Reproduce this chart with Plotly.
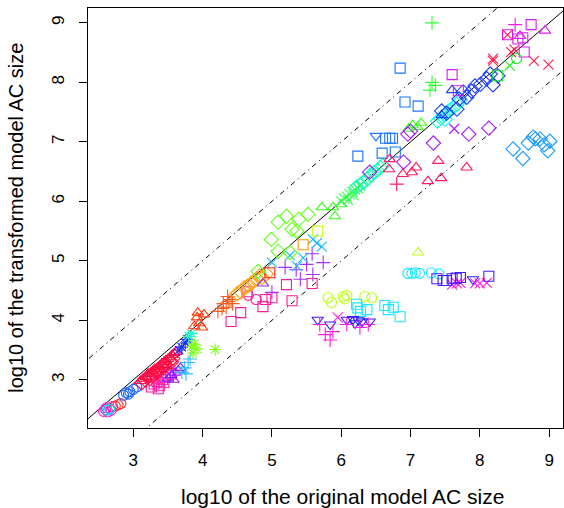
import plotly.graph_objects as go

# --- data (log10 sizes: original vs transformed) ---
magenta_circ_x = [2.57, 2.60, 2.63, 2.66, 2.70, 2.61, 2.68]
magenta_circ_y = [2.47, 2.50, 2.46, 2.52, 2.55, 2.53, 2.49]
red_circ_x = [2.74, 2.78, 2.82]
red_circ_y = [2.56, 2.58, 2.60]
cyan_circ_lo_x = [2.62, 2.66]
cyan_circ_lo_y = [2.49, 2.51]
blue_circ_x = [2.86, 2.90, 2.95, 3.00, 3.05, 2.93]
blue_circ_y = [2.74, 2.78, 2.80, 2.84, 2.88, 2.76]
red_tri_lo_x = [3.10, 3.14, 3.18, 3.21, 3.25, 3.28, 3.31, 3.35, 3.38, 3.41,
                3.44, 3.47, 3.50, 3.53, 3.56, 3.59, 3.62, 3.30, 3.40, 3.48]
red_tri_lo_y = [2.98, 3.02, 3.05, 3.10, 3.12, 3.15, 3.18, 3.21, 3.24, 3.27,
                3.30, 3.33, 3.35, 3.38, 3.42, 3.45, 3.47, 3.10, 3.18, 3.25]
red_dia_lo_x = [3.12, 3.17, 3.22, 3.27, 3.32, 3.36, 3.42, 3.46, 3.52, 3.57,
                3.24, 3.34, 3.44, 3.55]
red_dia_lo_y = [2.95, 3.00, 3.06, 3.08, 3.14, 3.16, 3.22, 3.26, 3.31, 3.36,
                3.02, 3.12, 3.20, 3.30]
pink_sq_lo_x = [3.26, 3.30, 3.34, 3.38, 3.42, 3.46, 3.50, 3.54, 3.36, 3.44]
pink_sq_lo_y = [2.88, 2.93, 2.97, 2.90, 3.00, 3.04, 3.08, 3.10, 2.85, 2.95]
purple_tri_lo_x = [3.50, 3.55, 3.60, 3.65, 3.68, 3.58]
purple_tri_lo_y = [3.02, 3.08, 3.12, 3.16, 3.20, 3.00]
lblue_cross_lo_x = [3.70, 3.74, 3.79, 3.82, 3.76]
lblue_cross_lo_y = [3.13, 3.20, 3.29, 3.35, 3.10]
blue_ast_x = [3.70, 3.75, 3.78, 3.66]
blue_ast_y = [3.55, 3.62, 3.68, 3.50]
teal_ast_x = [3.80, 3.84]
teal_ast_y = [3.73, 3.78]
green_ast_x = [3.84, 3.88, 3.92, 4.18, 3.86]
green_ast_y = [3.56, 3.60, 3.52, 3.51, 3.45]
orange_tri_x = [3.88, 3.92, 3.95, 3.99, 4.02, 3.93]
orange_tri_y = [3.90, 4.05, 3.95, 3.88, 4.10, 4.13]
orange_plus_x = [4.22, 4.28, 4.30, 4.34, 4.38, 4.41, 4.43, 4.36]
orange_plus_y = [4.15, 4.20, 4.28, 4.22, 4.32, 4.35, 4.28, 4.40]
pink_sq_x = [4.41, 4.55, 4.64, 4.87, 4.91, 5.00, 5.21, 5.29, 5.58]
pink_sq_y = [3.98, 4.13, 4.48, 4.23, 4.35, 4.38, 4.60, 4.33, 4.62]
pink_circ_x = [4.77, 4.66]
pink_circ_y = [4.35, 4.42]
amber_x = [4.50, 4.55, 4.60, 4.65, 4.70, 4.74, 4.78, 4.82, 4.86, 4.92]
amber_y = [4.45, 4.48, 4.55, 4.58, 4.62, 4.66, 4.70, 4.74, 4.72, 4.78]
red_sq_x = [4.97]
red_sq_y = [4.80]
purple_tri_x = [4.87]
purple_tri_y = [4.62]
purple_plus_x = [5.00, 5.19, 5.41, 5.50, 5.58, 5.59, 5.74, 5.35]
purple_plus_y = [4.47, 4.89, 4.69, 4.94, 5.12, 4.77, 4.97, 4.85]
lblue_x_x = [5.00, 5.26, 5.36, 5.45, 5.59, 5.65, 5.72]
lblue_x_y = [4.97, 5.09, 4.91, 5.05, 5.36, 5.30, 5.24]
orange_sq_x = [5.45]
orange_sq_y = [5.27]
lime_sq_x = [5.66]
lime_sq_y = [5.50]
green_dia_x = [4.80, 4.99, 5.09, 5.09, 5.21, 5.26, 5.29, 5.36, 5.39, 5.52]
green_dia_y = [4.82, 5.36, 5.65, 5.16, 5.75, 5.14, 5.53, 5.50, 5.70, 5.78]
green_tri_x = [5.72, 5.88, 5.91, 6.00, 6.97, 7.03, 7.10, 7.15]
green_tri_y = [5.90, 5.90, 5.75, 5.95, 7.22, 7.28, 7.25, 7.32]
green_xs_x = [6.00, 6.04, 6.08, 6.12, 6.16, 6.20, 6.24, 6.27, 6.10, 6.18]
green_xs_y = [6.00, 6.05, 6.08, 6.12, 6.16, 6.20, 6.22, 6.26, 6.02, 6.10]
teal_dia_x = [6.22, 6.28, 6.33, 6.38, 6.42, 6.47, 6.52, 6.56, 6.60]
teal_dia_y = [6.24, 6.29, 6.33, 6.38, 6.44, 6.48, 6.52, 6.57, 6.60]
cyan_dia_x = [7.39, 7.44, 7.49, 7.53, 7.58, 7.62, 7.67, 7.72, 7.50]
cyan_dia_y = [7.35, 7.40, 7.45, 7.50, 7.55, 7.58, 7.63, 7.70, 7.38]
blue_sq_x = [6.24, 6.59, 6.78, 6.64, 6.70, 6.74, 6.85, 6.92, 7.11]
blue_sq_y = [6.76, 6.81, 6.83, 7.06, 7.06, 7.06, 8.24, 7.67, 7.60]
blue_dtri_x = [6.50]
blue_dtri_y = [7.10]
red_tri_x = [6.69, 6.70, 6.89, 7.02, 7.08, 7.25, 7.40, 7.44, 7.81]
red_tri_y = [6.54, 6.71, 6.46, 6.49, 6.57, 6.34, 6.68, 6.39, 6.57]
red_plus_x = [6.80]
red_plus_y = [6.29]
purple_dia_x = [6.41, 6.90, 6.96, 7.00, 7.33, 7.84, 8.13]
purple_dia_y = [6.49, 6.66, 7.13, 7.18, 6.98, 7.13, 7.23]
purple_x_x = [7.63]
purple_x_y = [7.22]
blue_dia_x = [7.45, 7.52, 7.67, 7.70, 7.76, 7.81, 7.88, 7.93, 8.01, 8.10,
              8.15, 8.19, 8.26]
blue_dia_y = [7.52, 7.48, 7.55, 7.72, 7.84, 7.75, 7.85, 7.94, 7.97, 8.06,
              8.14, 7.96, 8.11]
blue_tri_x = [7.45, 7.60]
blue_tri_y = [7.45, 7.87]
green_plus_x = [7.28, 7.31, 7.31, 7.36]
green_plus_y = [7.87, 8.00, 9.00, 7.95]
mag_sq_x = [7.60, 7.69, 8.40, 8.55, 8.62, 8.64, 8.74]
mag_sq_y = [8.13, 7.86, 8.80, 8.73, 8.75, 8.51, 8.97]
mag_plus_x = [8.51]
mag_plus_y = [8.97]
mag_tri_x = [8.58, 8.94]
mag_tri_y = [8.78, 8.87]
red_x_x = [8.19, 8.19, 8.40, 8.45, 8.50, 8.78, 8.99]
red_x_y = [8.36, 8.40, 8.80, 8.51, 8.55, 8.36, 8.30]
green_sq_x = [8.26]
green_sq_y = [8.11]
green_x_x = [8.43]
green_x_y = [8.28]
green_circ_x = [8.53]
green_circ_y = [8.40]
sky_dia_x = [8.48, 8.62, 8.70, 8.77, 8.80, 8.87, 8.93, 8.98, 9.01]
sky_dia_y = [6.88, 6.72, 6.98, 7.08, 7.05, 7.05, 6.95, 6.85, 7.01]
lime_circ_x = [5.81, 5.86, 6.03, 6.05, 6.08, 6.34, 6.44]
lime_circ_y = [4.38, 4.30, 4.40, 4.36, 4.42, 4.40, 4.38]
cyan_sq_x = [6.22, 6.24, 6.28, 6.37, 6.63, 6.68, 6.75, 6.85]
cyan_sq_y = [4.27, 4.21, 4.15, 4.18, 4.25, 4.18, 4.22, 4.06]
indigo_dtri_x = [5.66, 5.84, 6.08, 6.17, 6.20, 6.25, 6.30, 6.41, 7.90]
indigo_dtri_y = [4.01, 3.93, 4.01, 4.02, 3.95, 4.00, 3.98, 3.98, 4.69]
mag_plus_lo_x = [5.69, 5.77, 5.84, 5.88, 6.08, 6.27, 6.39]
mag_plus_lo_y = [3.93, 3.76, 3.67, 3.81, 3.93, 3.88, 3.93]
mag_x_x = [5.95, 7.60, 7.67, 7.72, 7.93, 8.00, 8.10]
mag_x_y = [4.05, 4.60, 4.62, 4.63, 4.62, 4.62, 4.63]
lime_tri_x = [7.11]
lime_tri_y = [5.14]
cyan_circ_x = [6.96, 7.02, 7.07, 7.13, 7.30, 7.41]
cyan_circ_y = [4.79, 4.79, 4.80, 4.79, 4.80, 4.78]
indigo_sq_x = [7.38, 7.47, 7.52, 7.60, 7.66, 7.72, 8.13]
indigo_sq_y = [4.70, 4.67, 4.67, 4.70, 4.71, 4.72, 4.74]

groups = [
    (magenta_circ_x, magenta_circ_y, '#FF1AC6', 'circle-open'),
    (red_circ_x, red_circ_y, '#FF3333', 'circle-open'),
    (cyan_circ_lo_x, cyan_circ_lo_y, '#00E5FF', 'circle-open'),
    (blue_circ_x, blue_circ_y, '#1A66FF', 'circle-open'),
    (pink_sq_lo_x, pink_sq_lo_y, '#FF1AA8', 'square-open'),
    (purple_tri_lo_x, purple_tri_lo_y, '#8C1AFF', 'triangle-up-open'),
    (red_tri_lo_x, red_tri_lo_y, '#FF0D45', 'triangle-up-open'),
    (red_dia_lo_x, red_dia_lo_y, '#FF0D45', 'diamond-open'),
    (lblue_cross_lo_x, lblue_cross_lo_y, '#33BBFF', 'cross-thin-open'),
    (blue_ast_x, blue_ast_y, '#1A2BFF', 'asterisk-open'),
    (teal_ast_x, teal_ast_y, '#1AFFC6', 'asterisk-open'),
    (green_ast_x, green_ast_y, '#80FF1A', 'asterisk-open'),
    (orange_tri_x, orange_tri_y, '#FF3A0D', 'triangle-up-open'),
    (orange_plus_x, orange_plus_y, '#FF5A1A', 'cross-thin-open'),
    (pink_sq_x, pink_sq_y, '#FF1A9C', 'square-open'),
    (pink_circ_x, pink_circ_y, '#FF1A9C', 'circle-open'),
    (amber_x, amber_y, '#FFA51A', 'diamond-open'),
    (red_sq_x, red_sq_y, '#FF1A1A', 'square-open'),
    (purple_tri_x, purple_tri_y, '#8C33FF', 'triangle-up-open'),
    (purple_plus_x, purple_plus_y, '#A033FF', 'cross-thin-open'),
    (lblue_x_x, lblue_x_y, '#1AB8FF', 'x-thin-open'),
    (orange_sq_x, orange_sq_y, '#FF9900', 'square-open'),
    (lime_sq_x, lime_sq_y, '#CCFF1A', 'square-open'),
    (green_dia_x, green_dia_y, '#66FF1A', 'diamond-open'),
    (green_tri_x, green_tri_y, '#3AFF1A', 'triangle-up-open'),
    (green_xs_x, green_xs_y, '#33FF4D', 'x-thin-open'),
    (teal_dia_x, teal_dia_y, '#1AFFB8', 'diamond-open'),
    (cyan_dia_x, cyan_dia_y, '#1AFFE6', 'diamond-open'),
    (blue_sq_x, blue_sq_y, '#1A75FF', 'square-open'),
    (blue_dtri_x, blue_dtri_y, '#1A75FF', 'triangle-down-open'),
    (red_tri_x, red_tri_y, '#FF1A66', 'triangle-up-open'),
    (red_plus_x, red_plus_y, '#FF1A66', 'cross-thin-open'),
    (purple_dia_x, purple_dia_y, '#A31AFF', 'diamond-open'),
    (purple_x_x, purple_x_y, '#A31AFF', 'x-thin-open'),
    (blue_dia_x, blue_dia_y, '#1A3DFF', 'diamond-open'),
    (blue_tri_x, blue_tri_y, '#1A3DFF', 'triangle-up-open'),
    (green_plus_x, green_plus_y, '#33FF33', 'cross-thin-open'),
    (mag_sq_x, mag_sq_y, '#D91AFF', 'square-open'),
    (mag_plus_x, mag_plus_y, '#FF1AE6', 'cross-thin-open'),
    (mag_tri_x, mag_tri_y, '#E61AFF', 'triangle-up-open'),
    (red_x_x, red_x_y, '#FF1A4D', 'x-thin-open'),
    (green_sq_x, green_sq_y, '#1AE61A', 'square-open'),
    (green_x_x, green_x_y, '#1AE61A', 'x-thin-open'),
    (green_circ_x, green_circ_y, '#1AE61A', 'circle-open'),
    (sky_dia_x, sky_dia_y, '#1A9CFF', 'diamond-open'),
    (lime_circ_x, lime_circ_y, '#BFFF1A', 'circle-open'),
    (cyan_sq_x, cyan_sq_y, '#1AE6FF', 'square-open'),
    (indigo_dtri_x, indigo_dtri_y, '#331AFF', 'triangle-down-open'),
    (mag_plus_lo_x, mag_plus_lo_y, '#FF1AD9', 'cross-thin-open'),
    (mag_x_x, mag_x_y, '#FF1AE0', 'x-thin-open'),
    (lime_tri_x, lime_tri_y, '#BFFF1A', 'triangle-up-open'),
    (cyan_circ_x, cyan_circ_y, '#1AE6FF', 'circle-open'),
    (indigo_sq_x, indigo_sq_y, '#4A1AFF', 'square-open'),
]

x_range = [2.346, 9.2]
y_range = [2.19, 9.25]

fig = go.Figure()

# Reference lines: y = x and y = x +/- 1
ref_x = [2.0, 10.0]
fig.add_trace(go.Scatter(x=ref_x, y=[2.0, 10.0], mode='lines',
                         line=dict(color='black', width=1)))
for off in (1, -1):
    fig.add_trace(go.Scatter(x=ref_x, y=[2.0 + off, 10.0 + off], mode='lines',
                             line=dict(color='black', width=1, dash='1px,4px,5px,4px')))

for gx, gy, col, sym in groups:
    size = 11 if sym.startswith('diamond') else 10
    fig.add_trace(go.Scatter(
        x=gx, y=gy, mode='markers',
        marker=dict(symbol=sym, size=size, color=col, line=dict(color=col, width=1.1))
    ))

axis_font = dict(family='Liberation Sans, Arial, sans-serif', size=17, color='black')
fig.update_layout(
    width=564, height=508,
    margin=dict(l=88, r=1, t=8, b=80),
    paper_bgcolor='white', plot_bgcolor='white',
    showlegend=False,
    font=axis_font,
    xaxis=dict(range=x_range, tickvals=[3, 4, 5, 6, 7, 8, 9], showgrid=False, zeroline=False,
               showline=True, mirror=True, linecolor='black', linewidth=1,
               ticks='outside', ticklen=8, tickcolor='black', tickfont=axis_font,
               ticklabelstandoff=9),
    yaxis=dict(range=y_range, tickvals=[3, 4, 5, 6, 7, 8, 9], showgrid=False, zeroline=False,
               showline=True, mirror=True, linecolor='black', linewidth=1,
               ticks='outside', ticklen=8, tickcolor='black', tickfont=axis_font,
               tickangle=-90, ticklabelstandoff=8),
    annotations=[
        dict(text='log10 of the original model AC size', xref='paper', yref='paper',
             x=0.535, y=-0.163, xanchor='center', yanchor='middle', showarrow=False,
             font=dict(family='Liberation Sans, Arial, sans-serif', size=21, color='black')),
        dict(text='log10 of the transformed model AC size', xref='paper', yref='paper',
             x=-0.152, y=0.5, xanchor='center', yanchor='middle', showarrow=False, textangle=-90,
             font=dict(family='Liberation Sans, Arial, sans-serif', size=20, color='black')),
    ],
)

fig.write_html('out.html', config={'displayModeBar': False},
               post_script="document.body.style.margin = '0';")
